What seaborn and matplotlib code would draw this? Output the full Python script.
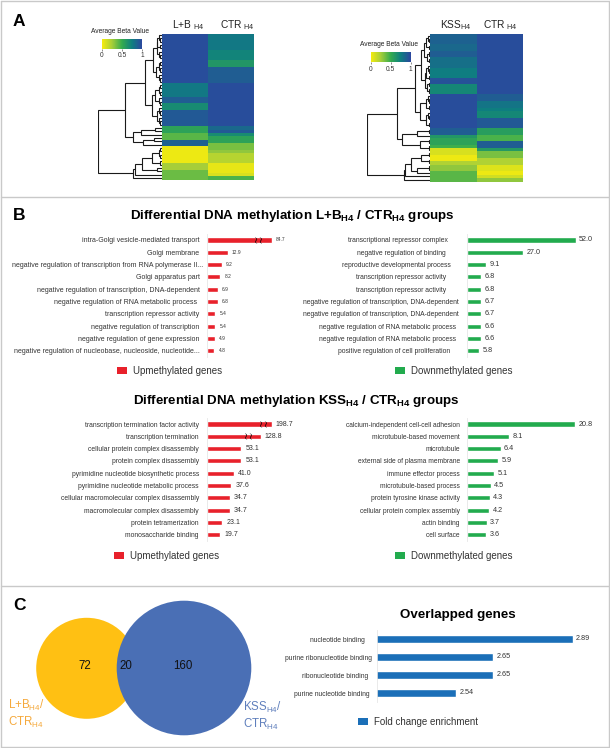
import numpy as np
import pandas as pd
import matplotlib
matplotlib.use("Agg")
import matplotlib.pyplot as plt
from matplotlib.colors import LinearSegmentedColormap
from matplotlib.lines import Line2D
from matplotlib.patches import Patch, Circle
import seaborn as sns

sns.set_theme(style="white")
plt.rcParams["font.family"] = ["Liberation Sans", "DejaVu Sans"]
plt.rcParams["mathtext.fontset"] = "custom"
plt.rcParams["mathtext.rm"] = "Liberation Sans"
plt.rcParams["mathtext.bf"] = "Liberation Sans:bold"
plt.rcParams["mathtext.default"] = "regular"

# ---------- data: heatmaps (44 clustered rows, top to bottom) ----------
hm1_lb = [.97]*15 + [.78]*4 + [.9]*2 + [.68]*2 + [.92]*5 + [.55]*2 + [.42]*2 + [.88]*2 + [.03]*5 + [.25]*2 + [.38]*3
hm1_ctr = [.78]*5 + [.72]*3 + [.62]*2 + [.9]*5 + [.97]*13 + [.85] + [.92] + [.68] + [.55]*2 + [.35]*2 + [.3] + [.2]*3 + [.05]*3 + [.1] + [.45]
hm2_kss = [.88]*3 + [.85]*2 + [.9]*2 + [.82]*3 + [.76]*3 + [.95]*2 + [.7]*3 + [.97]*10 + [.9]*2 + [.62] + [.55]*2 + [.48] + [.1]*2 + [.03]*2 + [.22] + [.3]*2 + [.42]*3
hm2_ctr = [.97]*18 + [.9]*2 + [.8]*2 + [.75] + [.7]*2 + [.92]*3 + [.58]*2 + [.45]*2 + [.9]*2 + [.6] + [.35]*2 + [.22]*2 + [.08]*2 + [.03] + [.12] + [.3]
hm_ticks = [0, 0.5, 1]

# dendrograms: (merge height, upper child, lower child); 0 is a leaf
two = (.02, 0, 0); three = (.035, 0, two); four = (.05, two, two); five = (.07, three, two)
tree1 = (1.0,
         (.58,
          (.26, (.13, (.08, five, three), (.09, four, three)),
                (.16, (.10, four, three), (.08, three, three))),
          (.46, (.33, (.1, 0, 0), 0), (.30, (.12, 0, 0), 0))),
         (.45, (.42, (.31, (.15, four, two), (.08, 0, 0)), 0), 0))
tree2 = (1.0,
         (.52,
          (.24, (.14, (.10, five, four), (.08, five, four)), (.16, five, five)),
          (.45, (.2, two, 0), (.16, two, two))),
         (.42, (.40, (.30, (.14, two, two), (.2, two, 0)), 0), 0))

# ---------- data: bars ----------
ul_terms = ["intra-Golgi vesicle-mediated transport", "Golgi membrane",
            "negative regulation of transcription from RNA polymerase II...", "Golgi apparatus part",
            "negative regulation of transcription, DNA-dependent", "negative regulation of RNA metabolic process",
            "transcription repressor activity", "negative regulation of transcription",
            "negative regulation of gene expression", "negative regulation of nucleobase, nucleoside, nucleotide..."]
ul_values = [84.7, 12.9, 9.2, 8.2, 6.9, 6.8, 5.4, 5.4, 4.9, 4.8]
ul_shown = [39.2, 12.9, 9.2, 8.2, 6.9, 6.8, 5.4, 5.4, 4.9, 4.8]   # first bar has a broken axis
ul_breaks = {0: 31.2}

ur_terms = ["transcriptional repressor complex", "negative regulation of binding",
            "reproductive developmental process", "transcription repressor activity",
            "transcription repressor activity", "negative regulation of transcription, DNA-dependent",
            "negative regulation of transcription, DNA-dependent", "negative regulation of RNA metabolic process",
            "negative regulation of RNA metabolic process", "positive regulation of cell proliferation"]
ur_values = [52.0, 27.0, 9.1, 6.8, 6.8, 6.7, 6.7, 6.6, 6.6, 5.8]

ll_terms = ["transcription termination factor activity", "transcription termination",
            "cellular protein complex disassembly", "protein complex disassembly",
            "pyrimidine nucleotide biosynthetic process", "pyrimidine nucleotide metabolic process",
            "cellular macromolecular complex disassembly", "macromolecular complex disassembly",
            "protein tetramerization", "monosaccharide binding"]
ll_values = [198.7, 128.8, 53.1, 53.1, 41.0, 37.6, 34.7, 34.7, 23.1, 19.7]
ll_shown = [100.5, 83.3, 53.1, 53.1, 41.0, 37.6, 34.7, 34.7, 23.1, 19.7]
ll_breaks = {0: 86.4, 1: 63.6}

lr_terms = ["calcium-independent cell-cell adhesion", "microtubule-based movement", "microtubule",
            "external side of plasma membrane", "immune effector process", "microtubule-based process",
            "protein tyrosine kinase activity", "cellular protein complex assembly", "actin binding", "cell surface"]
lr_values = [20.8, 8.1, 6.4, 5.9, 5.1, 4.5, 4.3, 4.2, 3.7, 3.6]

ov_terms = ["nucleotide binding", "purine ribonucleotide binding", "ribonucleotide binding", "purine nucleotide binding"]
ov_values = [2.89, 2.65, 2.65, 2.54]

venn_counts = ["72", "20", "160"]

# ---------- styles ----------
W, H = 610, 748
RED, GREEN, BLUE = "#E8212B", "#22AB4E", "#1B6FB8"
VENN_Y, VENN_B = "#FFC013", "#4A6FB5"
cmap = LinearSegmentedColormap.from_list("beta", ["#F6EC0E", "#A6CE39", "#34AB4E", "#0E7F80", "#2B479E"])

fig = plt.figure(figsize=(W / 100, H / 100), dpi=100, facecolor="white")


def ax_px(x0, y0, x1, y1):
    return fig.add_axes([x0 / W, 1 - y1 / H, (x1 - x0) / W, (y1 - y0) / H])


def text_px(x, y, s, **kw):
    kw.setdefault("va", "center")
    fig.text(x / W, 1 - y / H, s, **kw)


# panel frame
for xs, ys in [((1, 609), (1, 1)), ((1, 609), (197, 197)), ((1, 609), (586, 586)),
               ((1, 609), (747, 747)), ((1, 1), (1, 747)), ((609, 609), (1, 747))]:
    fig.add_artist(Line2D([x / W for x in xs], [1 - y / H for y in ys], color="#C9C9C9", lw=1))

for y, s in [(22, "A"), (215, "B"), (605, "C")]:
    text_px(13, y, s, fontsize=12.5, fontweight="bold", color="black")


# ---------- panel A ----------
def draw_tree(ax, node, counter):
    if node == 0:
        y = counter[0] + 0.5
        counter[0] += 1
        return y, 0.0
    h, a, b = node
    ya, ha = draw_tree(ax, a, counter)
    yb, hb = draw_tree(ax, b, counter)
    ax.plot([ha, h, h, hb], [ya, ya, yb, yb], color="#1a1a1a", lw=0.8, solid_joinstyle="miter")
    return (ya + yb) / 2, h


def heat_panel(box, names, cols, tree, root_x, cbar_box, cbar_title_y, title_x, heads, head_y):
    x0, y0, x1, y1 = box
    ax = ax_px(x0, y0, x1, y1)
    cax = ax_px(*cbar_box)
    df = pd.DataFrame(dict(zip(names, cols)))
    sns.heatmap(df, ax=ax, cmap=cmap, vmin=0, vmax=1, xticklabels=False, yticklabels=False,
                cbar_ax=cax, cbar_kws={"orientation": "horizontal", "ticks": hm_ticks})
    cax.set_xticklabels(["0", "0.5", "1"], fontsize=4.8, color="#333333")
    cax.tick_params(axis="x", length=1.5, width=0.4, pad=1, bottom=True, color="#333333")
    text_px(title_x, cbar_title_y, "Average Beta Value", fontsize=4.8, ha="center", color="#222222")
    for hx, h in zip(heads, names):
        main, sub = h.split("|")
        text_px(hx, head_y, f"{main}$_{{{sub}}}$", fontsize=7.3, color="#222222")
    dax = ax_px(root_x, y0, x0, y1)
    draw_tree(dax, tree, [0])
    dax.set_xlim(1.0, 0)
    dax.set_ylim(44, 0)
    dax.axis("off")


heat_panel((161.7, 33.5, 253.5, 179.5), ["L+B |H4", "CTR |H4"], [hm1_lb, hm1_ctr], tree1, 98.3,
           (102, 38.5, 142, 49), 31.5, 120.5, (172, 220), 25)
heat_panel((430, 34, 523, 181.5), ["KSS|H4", "CTR |H4"], [hm2_kss, hm2_ctr], tree2, 367.3,
           (370.7, 51.7, 410.7, 62.3), 44.7, 389, (440, 483), 25)


# ---------- panel B + overlap bars ----------
def bar_panel(x0, x1, y_first, step, terms, values, shown, scale, color, pads, label_fs, value_fs,
              val_pad, breaks=None, bar_w=0.42, x_start=0, fmt="{:.1f}"):
    n = len(terms)
    ax = ax_px(x0, y_first - step / 2, x1, y_first + step * (n - 0.5))
    df = pd.DataFrame({"row": np.arange(n), "shown": shown})
    sns.barplot(data=df, x="shown", y="row", orient="h", color=color, saturation=1, width=bar_w,
                errorbar=None, ax=ax)
    ax.set_xlim(x_start, x_start + (x1 - x0) / scale)
    ax.set_ylim(n - 0.5, -0.5)
    ax.set_xlabel(""); ax.set_ylabel("")
    ax.set_xticks([])
    ax.set_yticks(np.arange(n), terms, fontsize=label_fs, color="#333333")
    ax.tick_params(axis="y", length=0)
    for tick, p in zip(ax.yaxis.get_major_ticks(), pads):
        tick.set_pad(p)
    for s in ("top", "right", "bottom"):
        ax.spines[s].set_visible(False)
    ax.spines["left"].set_color("#E6E6E6")
    ax.spines["left"].set_linewidth(0.6)
    ax.bar_label(ax.containers[0], labels=[fmt.format(v) for v in values], padding=val_pad,
                 fontsize=value_fs, color="#333333", clip_on=False)
    for row, at in (breaks or {}).items():
        ax.plot([at], [row], marker=r"$\wr\wr$", ms=5, color="black", mew=0, clip_on=False, zorder=5)
    return ax


def legend_px(ax, x, y, label, color, fs=7.0):
    ax.legend(handles=[Patch(facecolor=color, edgecolor="none", label=label)], loc="center left",
              bbox_to_anchor=(x / W, 1 - y / H), bbox_transform=fig.transFigure, frameon=False,
              fontsize=fs, handlelength=1.0, handleheight=0.8, handletextpad=0.65, borderpad=0, borderaxespad=0,
              labelcolor="#333333")


TITLE = dict(fontsize=9.6, fontweight="bold", color="black", ha="center")
text_px(292, 216.5, r"Differential DNA methylation L+B$_{\mathbf{H4}}$ / CTR$_{\mathbf{H4}}$ groups", **TITLE)
text_px(296.5, 401, r"Differential DNA methylation KSS$_{\mathbf{H4}}$ / CTR$_{\mathbf{H4}}$ groups", **TITLE)
text_px(458, 615, "Overlapped genes", **TITLE)

a = bar_panel(206.5, 300, 240, 12.3, ul_terms, ul_values, ul_shown, 1.66, RED,
              [5, 5, 2, 5, 5, 7, 5, 5, 5, 5], 5.0, 3.5, 3, ul_breaks)
legend_px(a, 117, 371, "Upmethylated genes", RED)
a = bar_panel(467, 577, 240, 12.3, ur_terms, ur_values, ur_values, 2.09, GREEN,
              [14, 15, 12, 15, 15, 6, 6, 8, 8, 12], 4.85, 5.2, 2.5, None)
legend_px(a, 395, 371, "Downmethylated genes", GREEN)
a = bar_panel(207.3, 300, 424, 12.3, ll_terms, ll_values, ll_shown, 0.64, RED,
              [6] * 10, 4.85, 5.0, 3, ll_breaks)
legend_px(a, 114, 556, "Upmethylated genes", RED)
a = bar_panel(467.3, 577, 424, 12.3, lr_terms, lr_values, lr_values, 5.2, GREEN,
              [5.5] * 10, 4.8, 5.2, 2.5, None)
legend_px(a, 395, 556, "Downmethylated genes", GREEN)
a = bar_panel(376.7, 575, 639, 18, ov_terms, ov_values, ov_values, 332, BLUE,
              [8.3, 3.3, 6, 5], 4.85, 5.2, 2.5, None, bar_w=0.39, x_start=2.3, fmt="{:.2f}")
legend_px(a, 358, 722, "Fold change enrichment", BLUE)

# ---------- panel C venn ----------
vax = ax_px(0, 587, 305, 747)
vax.set_xlim(0, 305); vax.set_ylim(747, 587); vax.axis("off")
vax.add_patch(Circle((86.7, 668.3), 50.5, color=VENN_Y, lw=0))
vax.add_patch(Circle((184, 668), 67.3, color=VENN_B, lw=0))
for (x, s) in zip((84.5, 126.3, 183), venn_counts):
    vax.text(x, 666, s, fontsize=8.3, ha="center", va="center", color="#111111")
for x, y, s, c in [(8, 705, "L+B$_{H4}$/", "#F5A93C"), (8, 722, "CTR$_{H4}$", "#F5A93C"),
                   (243, 707, "KSS$_{H4}$/", "#5F7FBC"), (243, 724, "CTR$_{H4}$", "#5F7FBC")]:
    text_px(x, y, s, fontsize=8.3, color=c)

fig.savefig("out.png", dpi=100)
